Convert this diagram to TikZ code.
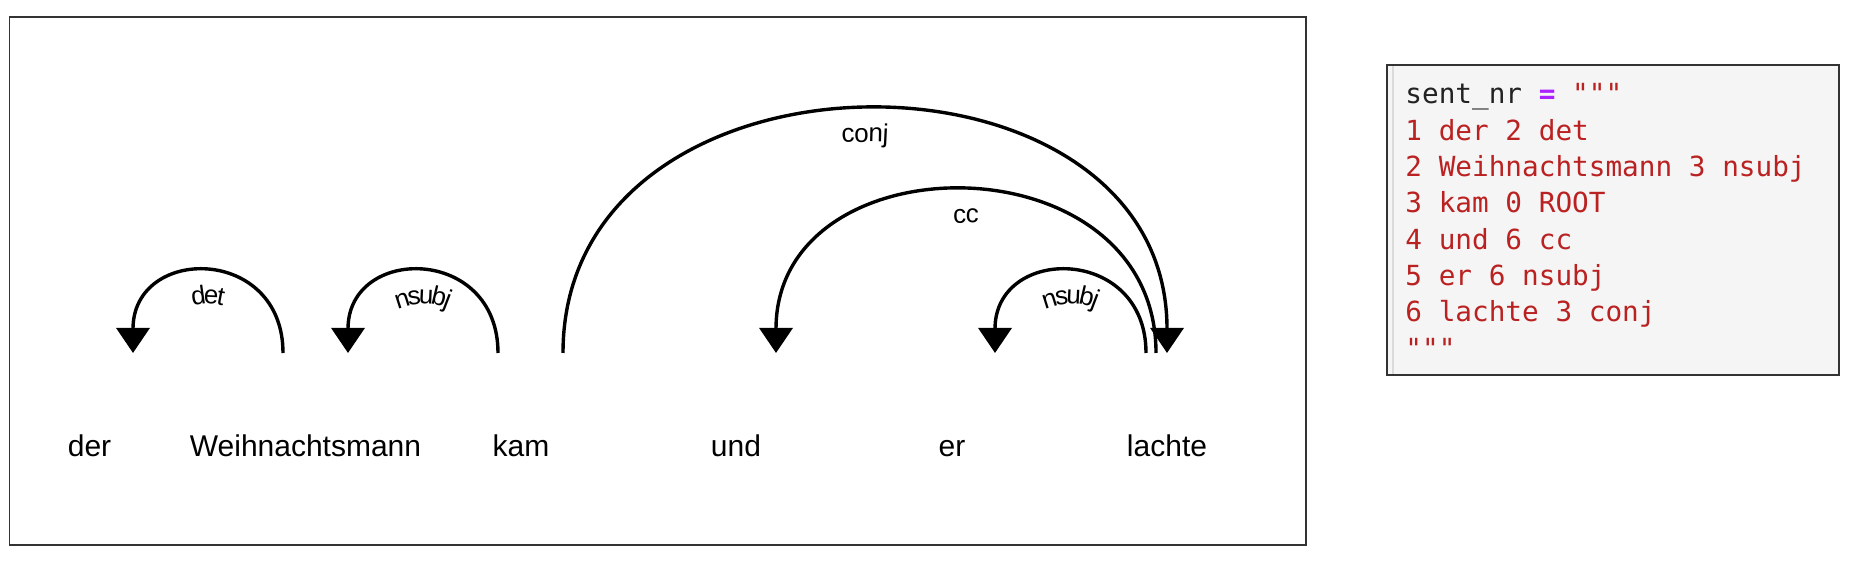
\documentclass[tikz,border=0pt]{standalone}
\usepackage{fontspec}
\setmainfont{Liberation Sans}
\setmonofont{DejaVu Sans Mono}
\usetikzlibrary{calc,arrows.meta,decorations.text}

\definecolor{framegray}{HTML}{333333}
\definecolor{codebg}{HTML}{F5F5F5}
\definecolor{stripegray}{HTML}{DADADA}
\definecolor{codered}{HTML}{BA2121}
\definecolor{codepurple}{HTML}{AA22FF}
\definecolor{codeblack}{HTML}{222222}
\newcommand\arclabel{\fontsize{13}{15}\selectfont}

\begin{document}
\begin{tikzpicture}[x=.5pt, y=.5pt,
    word/.style={anchor=base, font=\fontsize{15}{18}\selectfont},
    dep/.style={line width=1.7pt, -{Triangle[width=16.5pt, length=12.5pt]}},
    deplabel/.style={decorate, decoration={text along path, text={|\arclabel|#1}, text align=center, raise=-8pt}},
    codeline/.style={anchor=base west, inner sep=0, text=codered,
        font=\ttfamily\fontsize{13.85}{16}\selectfont}]
    \def\lv{108} \def\dn{16} \def\dl{36.3}
    \useasboundingbox (0, 0) rectangle (1855, 561);

    % parse frame
    \draw[line width=.85pt, framegray] (9.5, 16) rectangle (1306, 544);

    \node[word] (w1) at (89.5, 104) {der};
    \node[word] (w2) at (305.5, 104) {Weihnachtsmann};
    \node[word] (w3) at (521, 104) {kam};
    \node[word] (w4) at (736, 104) {und};
    \node[word] (w5) at (952, 104) {er};
    \node[word] (w6) at (1167, 104) {lachte};

    \coordinate (det-h) at ($ (w1.base) + (43.5, 104) $);
    \coordinate (det-t) at ($ (w2.base) + (-22.5, 104) $);
    \coordinate (nsubj-h) at ($ (w2.base) + (42.5, 104) $);
    \coordinate (nsubj-t) at ($ (w3.base) + (-23, 104) $);
    \coordinate (conj-t) at ($ (w3.base) + (42, 104) $);
    \coordinate (conj-h) at ($ (w6.base) + (0, 104) $);
    \coordinate (cc-h) at ($ (w4.base) + (40, 104) $);
    \coordinate (cc-t) at ($ (w6.base) + (-11, 104) $);
    \coordinate (er-h) at ($ (w5.base) + (43, 104) $);
    \coordinate (er-t) at ($ (w6.base) + (-21, 104) $);

    \draw[dep] (det-t) .. controls ($ (det-t) + (0, \lv) $) and ($ (det-h) + (0, \lv) $) .. (det-h);
    \draw[dep] (nsubj-t) .. controls ($ (nsubj-t) + (0, \lv) $) and ($ (nsubj-h) + (0, \lv) $) .. (nsubj-h);
    \draw[dep] (conj-t) .. controls ($ (conj-t) + (0, 3*\lv) $) and ($ (conj-h) + (0, 3*\lv) $) .. (conj-h);
    \draw[dep] (cc-t) .. controls ($ (cc-t) + (0, 2*\lv) $) and ($ (cc-h) + (0, 2*\lv) $) .. (cc-h);
    \draw[dep] (er-t) .. controls ($ (er-t) + (0, \lv) $) and ($ (er-h) + (0, \lv) $) .. (er-h);

    % labels: same arcs, dropped a little, read left to right
    \path[deplabel=det] ($ (det-h) + (0, -\dn) $) .. controls ($ (det-h) + (0, \lv-\dn) $) and ($ (det-t) + (0, \lv-\dn) $) .. ($ (det-t) + (0, -\dn) $);
    \path[deplabel=nsubj] ($ (nsubj-h) + (0, -\dn) $) .. controls ($ (nsubj-h) + (0, \lv-\dn) $) and ($ (nsubj-t) + (0, \lv-\dn) $) .. ($ (nsubj-t) + (0, -\dn) $);
    \path[deplabel=conj] ($ (conj-t) + (0, -\dn) $) .. controls ($ (conj-t) + (0, 3*\lv-\dn) $) and ($ (conj-h) + (0, 3*\lv-\dn) $) .. ($ (conj-h) + (0, -\dn) $);
    \path[deplabel=cc] ($ (cc-h) + (0, -\dn) $) .. controls ($ (cc-h) + (0, 2*\lv-\dn) $) and ($ (cc-t) + (0, 2*\lv-\dn) $) .. ($ (cc-t) + (0, -\dn) $);
    \path[deplabel=nsubj] ($ (er-h) + (0, -\dn) $) .. controls ($ (er-h) + (0, \lv-\dn) $) and ($ (er-t) + (0, \lv-\dn) $) .. ($ (er-t) + (0, -\dn) $);

    % code cell
    \draw[line width=.85pt, framegray, fill=codebg] (1387, 186) rectangle (1839, 496);
    \draw[line width=1pt, stripegray] (1393, 187) -- (1393, 495);

    \node[codeline, text=codeblack] (l0) at (1405, 457) {sent\_nr {\color{codepurple}\textbf{=}} {\color{codered}"""}};
    \node[codeline] (l1) at ($ (l0.base west) + (0, -\dl) $) {1 der 2 det};
    \node[codeline] (l2) at ($ (l1.base west) + (0, -\dl) $) {2 Weihnachtsmann 3 nsubj};
    \node[codeline] (l3) at ($ (l2.base west) + (0, -\dl) $) {3 kam 0 ROOT};
    \node[codeline] (l4) at ($ (l3.base west) + (0, -\dl) $) {4 und 6 cc};
    \node[codeline] (l5) at ($ (l4.base west) + (0, -\dl) $) {5 er 6 nsubj};
    \node[codeline] (l6) at ($ (l5.base west) + (0, -\dl) $) {6 lachte 3 conj};
    \node[codeline] (l7) at ($ (l6.base west) + (0, -\dl) $) {"""};
\end{tikzpicture}
\end{document}
